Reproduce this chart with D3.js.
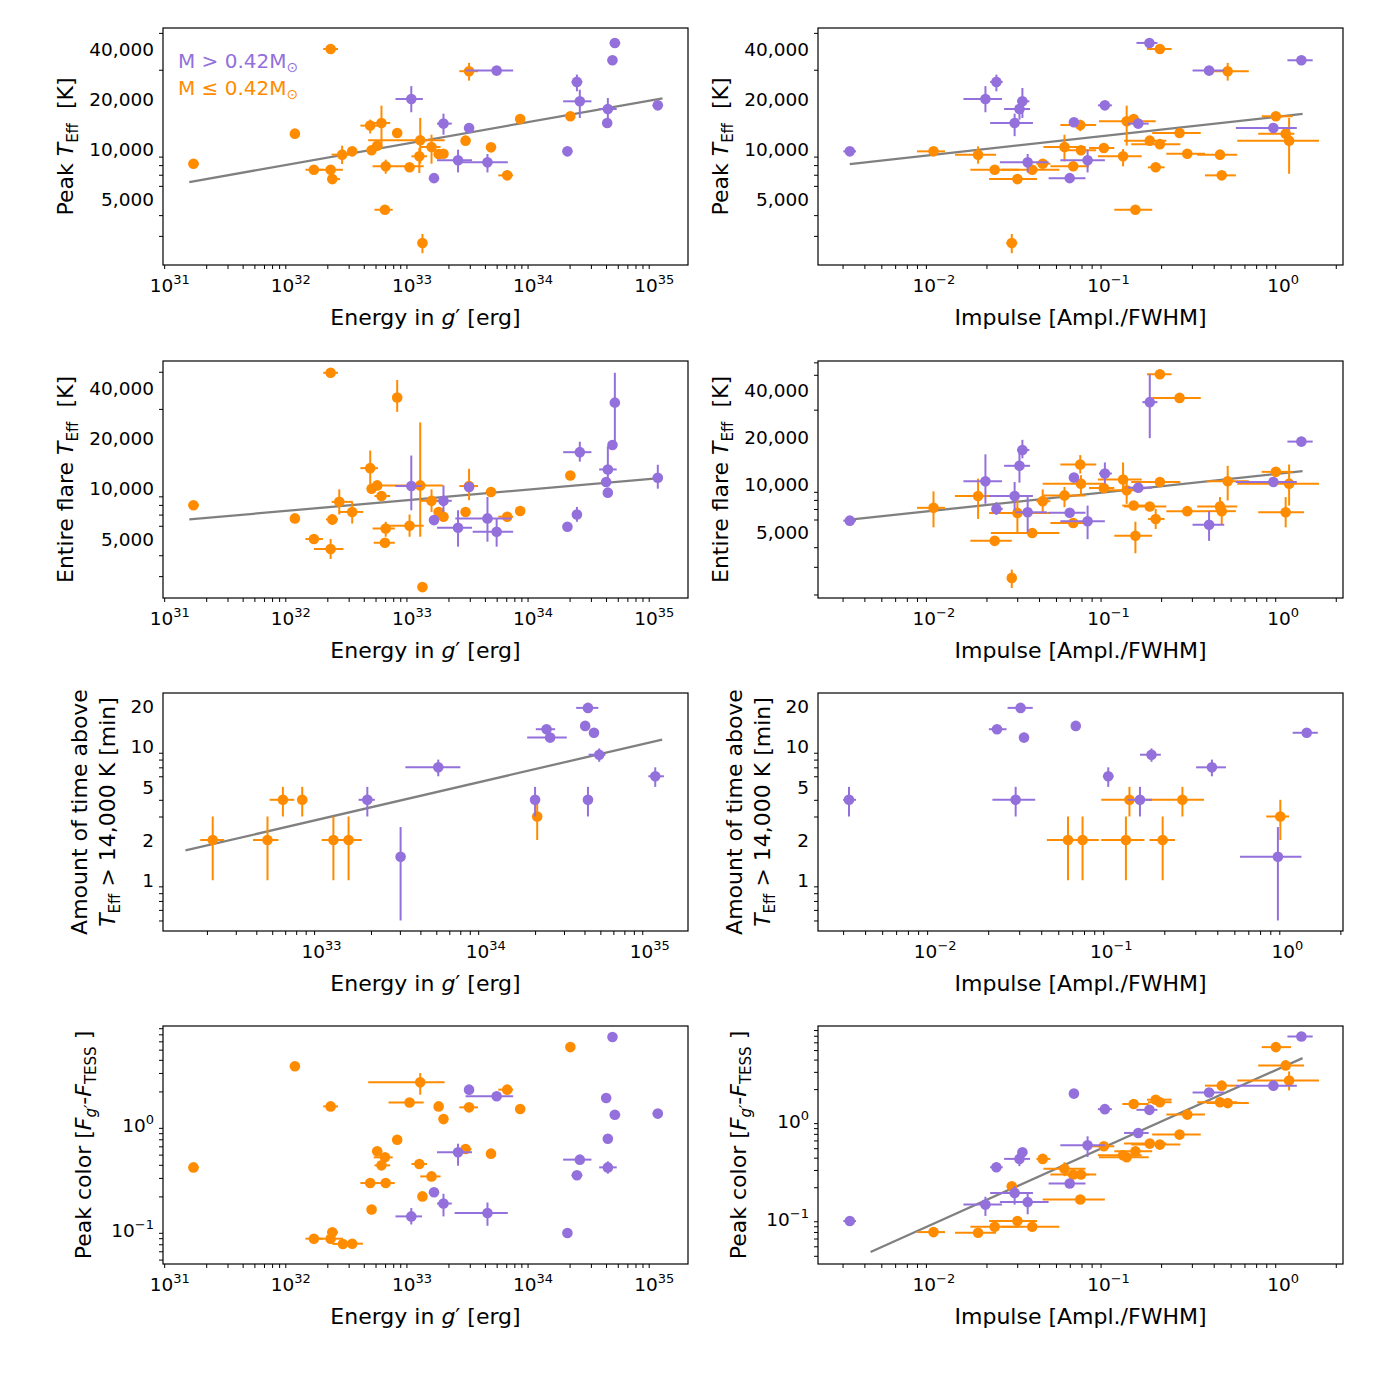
<!DOCTYPE html>
<html><head><meta charset="utf-8">
<script src="https://cdn.jsdelivr.net/npm/d3@7"></script>
<style>
body{margin:0;background:#fff}
text{font-family:"DejaVu Sans",sans-serif;white-space:pre}
</style>
</head><body>
<svg id="c" width="1375" height="1375"></svg>
<script>
// ---------------- DATA ----------------
// each point: [x, xLow, xHigh, y, yLow, yHigh]  (null = no error bar)
// group "hi" : M > 0.42 Msun (purple), group "lo" : M <= 0.42 Msun (orange)
const legendLabels = ["M > 0.42M", "M \u2264 0.42M"];
const energyTicks = [1e31,1e32,1e33,1e34,1e35];
const energyTicksDur = [1e33,1e34,1e35];
const impulseTicks = [0.01,0.1,1];
const tempTicks = [5000,10000,20000,40000];
const durTicks = [1,2,5,10,20];
const colorTicks = [0.1,1];

const energyPeakT_lo = [
[1.57e31,1.43e31,1.74e31,8160,7850,8450],
[1.08e32,0.99e32,1.17e32,12370,11900,12900],
[2.13e32,1.85e32,2.45e32,40000,null,null],
[1.55e32,1.32e32,1.84e32,7500,null,null],
[2.13e32,1.68e32,2.69e32,7500,7050,7950],
[2.20e32,2.00e32,2.55e32,6590,6350,6850],
[2.65e32,2.17e32,3.24e32,9250,8130,10470],
[3.21e32,2.97e32,3.51e32,9680,9300,10050],
[4.52e32,3.75e32,5.24e32,13830,12400,15030],
[5.60e32,4.73e32,6.61e32,14350,10140,18240],
[4.64e32,null,null,9820,null,null],
[5.16e32,null,null,10470,null,null],
[1.17e33,4.35e32,1.86e33,11280,8160,15380],
[7.55e32,null,null,12480,null,null],
[6.07e32,4.73e32,1.25e33,7870,7100,8630],
[9.55e32,null,null,7760,null,null],
[1.15e33,0.99e33,1.33e33,9040,7170,10140],
[1.45e33,1.17e33,1.72e33,10280,8160,12190],
[1.66e33,null,null,9330,null,null],
[1.82e33,null,null,9370,null,null],
[2.77e33,null,null,11230,null,null],
[2.96e33,2.46e33,3.51e33,29400,25800,33000],
[4.49e33,null,null,10230,null,null],
[6.11e33,5.16e33,6.84e33,6940,null,null],
[7.82e33,null,null,15160,null,null],
[2.03e34,null,null,15740,null,null],
[5.98e32,4.90e32,6.93e32,4310,4100,4550],
[1.22e33,null,null,2720,2360,3080]
];
const energyPeakT_hi = [
[9.87e32,7.31e32,1.23e33,20000,16640,23900],
[1.82e33,1.61e33,2.13e33,14220,12190,16330],
[2.96e33,null,null,13390,null,null],
[1.52e33,null,null,6680,null,null],
[2.40e33,1.61e33,3.13e33,8550,7230,9910],
[4.20e33,2.25e33,6.18e33,8310,7230,9330],
[5.00e33,2.77e33,6.84e33,29650,null,null],
[1.92e34,null,null,9680,null,null],
[2.30e34,2.08e34,2.55e34,25350,22250,28050],
[2.43e34,1.77e34,3.03e34,19370,15380,22760],
[4.14e34,3.51e34,4.90e34,17410,15030,20270],
[4.09e34,null,null,14350,null,null],
[4.52e34,null,null,34200,null,null],
[4.73e34,4.29e34,5.24e34,43500,null,null],
[1.07e35,0.97e35,1.18e35,18320,null,null]
];
const fitEnergyPeakT = [[1.45e31,6330],[1.17e35,20180]];

const impulsePeakT_lo = [
[0.00995,0.00801,0.01158,9680,9250,10140],
[0.01791,0.01321,0.02269,9250,8160,10370],
[0.02229,0.01618,0.03064,7500,7200,7800],
[0.03007,0.02070,0.03898,6590,6350,6850],
[0.02792,0.02600,0.03000,2720,2360,3080],
[0.03656,0.02432,0.05225,7500,7100,7870],
[0.04198,0.03863,0.04645,8160,7900,8450],
[0.05593,0.04236,0.07378,10280,8430,12190],
[0.06278,0.04645,0.07733,7870,7500,8250],
[0.06951,0.05593,0.08494,9820,9500,10150],
[0.06887,0.05297,0.08494,13950,12800,15000],
[0.09397,0.07733,0.1079,10140,null,null],
[0.1211,0.08695,0.1548,9040,7870,10000],
[0.1270,0.08810,0.1862,14680,10480,18240],
[0.1393,0.1290,0.1500,15160,null,null],
[0.1722,0.1227,0.2142,11230,null,null],
[0.1968,0.1349,0.2577,10700,null,null],
[0.1862,0.1683,0.2094,7760,7450,8050],
[0.1425,0.1079,0.1778,4310,null,null],
[0.1968,0.1660,0.2296,40000,null,null],
[0.2551,0.1778,0.3373,12480,null,null],
[0.2823,0.2142,0.3566,9370,null,null],
[0.4347,0.3218,0.5454,9250,null,null],
[0.4447,0.3566,0.5358,6940,null,null],
[0.4810,0.3648,0.6355,29400,25800,33000],
[0.9077,0.7535,1.132,15740,null,null],
[1.033,0.7194,1.159,12370,null,null],
[1.081,0.5454,1.603,11230,7100,15380]
];
const impulsePeakT_hi = [
[0.00330,0.00303,0.00358,9680,null,null],
[0.01973,0.01476,0.02455,20000,16640,23900],
[0.02280,0.02099,0.02477,25350,22250,28050],
[0.03212,0.02991,0.03522,19370,15380,23300],
[0.03090,0.02523,0.03553,17410,15030,20270],
[0.02899,0.02099,0.03690,14350,11950,16330],
[0.03443,0.02387,0.04538,8310,7230,9330],
[0.05993,0.04538,0.07378,6680,null,null],
[0.06336,null,null,14500,null,null],
[0.07586,0.05297,0.09528,8550,7230,9910],
[0.09528,0.08695,0.1045,18320,null,null],
[0.1479,0.1288,0.1698,14220,null,null],
[0.1714,0.1445,0.1905,43500,null,null],
[0.3764,0.3027,0.4597,29650,null,null],
[0.8790,0.5358,1.197,13390,null,null],
[1.271,1.057,1.475,34200,null,null]
];
const fitImpulsePeakT = [[0.00330,8120],[1.291,16260]];

const energyEntireT_lo = [
[1.57e31,1.43e31,1.74e31,7960,7700,8250],
[1.08e32,1.02e32,1.15e32,6640,6340,7010],
[2.13e32,1.85e32,2.45e32,49300,null,null],
[1.55e32,1.32e32,1.84e32,5000,4820,5160],
[2.13e32,1.55e32,2.72e32,4360,3800,5000],
[2.20e32,1.95e32,2.45e32,6550,6060,7010],
[2.51e32,2.17e32,3.24e32,8340,7010,9910],
[3.21e32,2.48e32,3.95e32,7260,6190,8340],
[4.52e32,3.75e32,5.24e32,13270,10370,16920],
[4.64e32,null,null,10000,null,null],
[5.16e32,null,null,10460,null,null],
[1.17e33,5.24e32,1.80e33,10460,5160,24900],
[5.60e32,4.90e32,6.61e32,9040,8530,9560],
[7.55e32,null,null,35100,28800,44650],
[6.07e32,4.73e32,7.21e32,5780,5160,6340],
[5.98e32,4.83e32,7.21e32,4750,null,null],
[9.55e32,6.40e32,1.25e33,6000,5160,7010],
[1.45e33,1.17e33,1.72e33,8460,7260,9910],
[1.66e33,null,null,7260,null,null],
[1.82e33,null,null,6800,null,null],
[2.77e33,null,null,7260,6800,7780],
[2.96e33,2.46e33,3.51e33,10370,8530,13140],
[4.49e33,null,null,9560,9040,10000],
[6.11e33,5.16e33,6.84e33,6800,6340,7260],
[7.82e33,null,null,7360,6900,7700],
[2.03e34,null,null,11990,null,null],
[1.22e33,null,null,2580,null,null]
];
const energyEntireT_hi = [
[9.87e32,7.31e32,1.21e33,10370,7430,15780],
[1.82e33,1.61e33,2.13e33,8460,7260,10460],
[1.52e33,null,null,6490,null,null],
[2.40e33,1.61e33,3.13e33,5840,4500,7430],
[2.96e33,null,null,10230,null,null],
[4.20e33,2.28e33,6.61e33,6640,4820,8920],
[5.00e33,3.17e33,6.84e33,5530,4500,6640],
[1.92e34,null,null,5920,null,null],
[2.30e34,null,null,7010,6340,7780],
[2.43e34,1.77e34,3.03e34,16530,14520,19100],
[4.14e34,3.51e34,4.90e34,13030,10460,17920],
[4.01e34,null,null,10960,null,null],
[4.14e34,null,null,9470,8920,10000],
[4.52e34,null,null,18240,null,null],
[4.73e34,null,null,32700,18240,49300],
[1.07e35,0.97e35,1.18e35,11620,10000,13900]
];
const fitEnergyEntireT = [[1.45e31,6550],[1.17e35,11620]];

const impulseEntireT_lo = [
[0.00995,0.00801,0.01158,7120,5350,9060],
[0.01791,0.01321,0.02269,8460,6050,10930],
[0.02229,0.01618,0.02792,4390,null,null],
[0.03007,0.02070,0.04645,6610,4970,8330],
[0.02792,null,null,2550,2200,2880],
[0.03656,0.02119,0.05225,4920,null,null],
[0.04198,0.03863,0.04645,7850,6670,9330],
[0.05593,0.04236,0.07378,8540,7190,9660],
[0.06278,0.04645,0.07733,5700,null,null],
[0.06951,0.04198,0.0931,10150,8540,11480],
[0.06887,0.05297,0.08494,13440,11770,15420],
[0.09397,0.07733,0.1079,9520,null,null],
[0.1211,0.08695,0.1548,10770,8970,13840],
[0.1270,0.08810,0.1548,9200,7550,11090],
[0.1393,0.1199,0.1737,7360,null,null],
[0.1722,0.1227,0.2142,7260,null,null],
[0.1968,0.1349,0.2577,10400,null,null],
[0.1862,0.1683,0.2094,6050,5220,7010],
[0.1425,0.1079,0.1778,4730,3660,5810],
[0.1968,0.1660,0.2296,50400,null,null],
[0.2551,0.1778,0.3373,35650,null,null],
[0.2823,0.2142,0.3566,6780,null,null],
[0.4347,0.3218,0.5454,7260,6350,8330],
[0.4447,0.3566,0.5358,6780,5560,7850],
[0.4810,0.3648,0.6355,10500,7930,13180],
[0.9077,0.7535,1.132,12060,null,null],
[1.033,0.7194,1.315,6670,5350,8330],
[1.081,0.5454,1.603,10150,7360,13440]
];
const impulseEntireT_hi = [
[0.00330,0.00303,0.00358,5900,null,null],
[0.01973,0.01476,0.02455,10500,7550,15590],
[0.02280,0.02187,0.02477,7010,6410,7740],
[0.03212,0.02991,0.03522,16630,14690,19280],
[0.03090,0.02523,0.03553,13180,10300,16060],
[0.02899,0.02070,0.03690,8460,6840,10400],
[0.03443,0.02924,0.04436,6670,4970,8330],
[0.05993,0.04538,0.07378,6620,null,null],
[0.06336,null,null,11090,null,null],
[0.07586,0.05297,0.09528,5850,4500,7360],
[0.09528,0.08810,0.1045,11770,10150,13840],
[0.1479,0.1288,0.1778,9570,null,null],
[0.1722,0.1562,0.1905,33500,19760,50400],
[0.3764,0.3027,0.4597,5560,4390,6780],
[0.8790,0.5358,1.197,10400,null,null],
[1.271,1.057,1.475,18790,null,null]
];
const fitImpulseEntireT = [[0.00330,5990],[1.291,12180]];

const energyDuration_lo = [
[2.17e32,1.82e32,2.55e32,2,1,3],
[4.68e32,3.82e32,5.46e32,2,1,3],
[5.81e32,4.82e32,6.81e32,4,3,5],
[7.62e32,null,null,4,3,5],
[1.18e33,1.00e33,1.38e33,2,1,3],
[1.46e33,1.22e33,1.76e33,2,1,3],
[2.06e34,null,null,3,2,4]
];
const energyDuration_hi = [
[1.90e33,1.68e33,2.11e33,4,3,5],
[3.03e33,null,null,1.5,0.5,2.5],
[5.14e33,3.24e33,7.01e33,7,6,8],
[2.00e34,null,null,4,3,5],
[2.35e34,2.02e34,2.65e34,13.5,12.5,14.5],
[2.47e34,1.79e34,3.12e34,11.7,10.7,12.7],
[4.20e34,3.56e34,4.86e34,19.5,18.5,20.5],
[4.04e34,null,null,14.3,13.3,15.3],
[4.57e34,null,null,12.7,11.7,13.7],
[4.92e34,4.24e34,5.37e34,8.7,7.7,9.7],
[4.20e34,null,null,4,3,5],
[1.08e35,9.80e34,1.22e35,6,5,7]
];
const fitEnergyDuration = [[1.48e32,1.67],[1.19e35,11.3]];

const impulseDuration_lo = [
[0.05680,0.04307,0.07131,2,1,3],
[0.06870,0.05808,0.08494,2,1,3],
[0.1211,0.08770,0.1543,2,1,3],
[0.1958,0.1644,0.2302,2,1,3],
[0.1268,0.08770,0.1705,4,3,5],
[0.2535,0.1705,0.3364,4,3,5],
[0.9120,0.7589,1.023,3,2,4]
];
const impulseDuration_hi = [
[0.00324,0.00300,0.00355,4,3,5],
[0.02244,0.02018,0.02541,13.5,12.5,14.5],
[0.03055,0.02576,0.03582,19.5,18.5,20.5],
[0.03194,null,null,11.7,10.7,12.7],
[0.02864,0.02113,0.03698,4,3,5],
[0.06287,null,null,14.3,13.3,15.3],
[0.09612,0.08968,0.1030,6,5,7],
[0.1455,0.1239,0.1705,4,3,5],
[0.1692,0.1455,0.1912,8.7,7.7,9.7],
[0.3727,0.3033,0.4478,7,6,8],
[0.8836,0.5381,1.202,1.5,0.5,2.5],
[1.288,1.072,1.489,12.7,11.7,13.7]
];

const energyColor_lo = [
[1.57e31,1.43e31,1.74e31,0.378,null,null],
[1.08e32,0.99e32,1.17e32,3.47,null,null],
[2.13e32,1.85e32,2.45e32,1.44,null,null],
[1.55e32,1.32e32,1.84e32,0.0791,null,null],
[2.13e32,1.68e32,2.69e32,0.0791,null,null],
[2.20e32,2.00e32,2.45e32,0.091,0.087,0.096],
[2.69e32,2.20e32,3.17e32,0.0705,0.065,0.076],
[3.21e32,2.51e32,3.93e32,0.0709,null,null],
[4.52e32,3.75e32,5.24e32,0.268,null,null],
[6.07e32,4.90e32,7.21e32,0.268,0.250,0.290],
[4.64e32,null,null,0.150,null,null],
[5.16e32,null,null,0.537,null,null],
[5.98e32,4.83e32,6.93e32,0.471,null,null],
[5.60e32,4.90e32,6.61e32,0.395,null,null],
[7.55e32,null,null,0.694,null,null],
[9.55e32,6.40e32,1.25e33,1.57,null,null],
[1.17e33,4.35e32,1.86e33,2.44,1.86,2.99],
[1.15e33,0.99e33,1.33e33,0.407,null,null],
[1.22e33,null,null,0.200,null,null],
[1.45e33,1.17e33,1.72e33,0.310,0.282,0.340],
[1.66e33,null,null,1.44,null,null],
[1.82e33,null,null,1.09,null,null],
[2.77e33,2.48e33,3.10e33,0.565,null,null],
[2.96e33,2.46e33,3.51e33,1.41,null,null],
[4.49e33,null,null,0.511,null,null],
[6.11e33,5.16e33,6.84e33,2.08,null,null],
[7.82e33,null,null,1.36,null,null],
[2.03e34,null,null,5.29,null,null]
];
const energyColor_hi = [
[9.87e32,7.31e32,1.21e33,0.129,0.108,0.155],
[1.52e33,null,null,0.219,null,null],
[1.82e33,1.61e33,2.13e33,0.171,0.129,0.212],
[2.40e33,1.61e33,3.13e33,0.526,0.392,0.635],
[2.96e33,null,null,2.08,null,null],
[4.20e33,2.25e33,6.18e33,0.139,0.105,0.175],
[5.00e33,2.77e33,6.84e33,1.80,null,null],
[1.92e34,null,null,0.0896,null,null],
[2.30e34,2.08e34,2.55e34,0.318,null,null],
[2.43e34,1.77e34,3.03e34,0.448,null,null],
[4.14e34,3.51e34,4.90e34,0.378,0.329,0.431],
[4.14e34,null,null,0.709,null,null],
[4.01e34,null,null,1.73,null,null],
[4.52e34,null,null,6.59,null,null],
[4.73e34,4.29e34,5.24e34,1.20,null,null],
[1.07e35,0.97e35,1.18e35,1.23,null,null]
];

const impulseColor_lo = [
[0.00995,0.00801,0.01158,0.0698,null,null],
[0.01791,0.01321,0.02269,0.0687,null,null],
[0.02229,0.01618,0.03064,0.0791,null,null],
[0.03007,0.02070,0.03898,0.0904,null,null],
[0.02792,null,null,0.205,null,null],
[0.03656,0.02432,0.05225,0.0791,null,null],
[0.04198,0.03863,0.04645,0.389,null,null],
[0.05593,0.04236,0.07378,0.308,0.259,0.360],
[0.06278,0.04645,0.07733,0.270,null,null],
[0.06951,0.05593,0.08494,0.270,null,null],
[0.06887,0.04198,0.09528,0.150,null,null],
[0.09397,0.07733,0.1079,0.523,null,null],
[0.1211,0.08695,0.1548,0.424,null,null],
[0.1270,0.08810,0.1698,0.404,null,null],
[0.1425,0.1079,0.1778,0.465,null,null],
[0.1393,0.1199,0.1698,1.41,null,null],
[0.1722,0.1227,0.2142,0.557,null,null],
[0.1968,0.1349,0.2577,0.544,null,null],
[0.1862,0.1660,0.2296,1.56,null,null],
[0.1968,0.1683,0.2296,1.47,null,null],
[0.2551,0.1778,0.3373,0.688,null,null],
[0.2823,0.2142,0.3566,1.10,null,null],
[0.4347,0.3218,0.5454,1.47,null,null],
[0.4810,0.3648,0.6355,1.44,null,null],
[0.4447,0.3566,0.5358,2.17,null,null],
[0.9077,0.7535,1.107,5.36,null,null],
[1.033,0.7194,1.315,3.49,null,null],
[1.081,0.5454,1.603,2.45,1.94,3.03]
];
const impulseColor_hi = [
[0.00330,0.00303,0.00358,0.0904,null,null],
[0.01973,0.01476,0.02455,0.133,0.102,0.160],
[0.02280,0.02099,0.02477,0.320,null,null],
[0.02899,0.02099,0.03690,0.175,0.133,0.205],
[0.03090,0.02523,0.03553,0.389,0.328,0.455],
[0.03212,null,null,0.455,null,null],
[0.03443,0.02387,0.04538,0.141,0.106,0.173],
[0.05993,0.04538,0.07378,0.218,null,null],
[0.06336,null,null,1.80,null,null],
[0.07586,0.05297,0.09528,0.536,0.407,0.661],
[0.09528,0.08695,0.1045,1.25,null,null],
[0.1479,0.1227,0.1698,0.715,null,null],
[0.1714,0.1445,0.1905,1.23,null,null],
[0.3764,0.3027,0.4597,1.85,null,null],
[0.8790,0.5358,1.197,2.17,null,null],
[1.271,1.057,1.475,6.88,null,null]
];
const fitImpulseColor = [[0.00434,0.0437],[1.291,4.14]];

// ---------------- LABELS ----------------
const xLabelEnergy = [{t:"Energy in "},{t:"g",i:1},{t:"\u2032 [erg]"}];
const xLabelImpulse = [{t:"Impulse [Ampl./FWHM]"}];
const yLabelPeakT = [[{t:"Peak "},{t:"T",i:1},{t:"Eff",sub:1},{t:"  [K]"}]];
const yLabelEntireT = [[{t:"Entire flare "},{t:"T",i:1},{t:"Eff",sub:1},{t:"  [K]"}]];
const yLabelDur = [[{t:"Amount of time above"}],[{t:"T",i:1},{t:"Eff",sub:1},{t:" > 14,000 K [min]"}]];
const yLabelColor = [[{t:"Peak color ["},{t:"F",i:1},{t:"g\u2032",i:1,sub:1},{t:"-"},{t:"F",i:1},{t:"TESS",sub:1},{t:" ]"}]];

// ---------------- DRAWING ----------------
const HI = "#9370DB", LO = "#FF8C00", FIT = "#808080";
const svg = d3.select("#c");
const colX = [163, 818], colW = 525;
const rowTop = [28, 361, 693, 1026], rowBot = [265, 598, 931, 1264];

function rich(sel, parts, subSize){
  let shift = 0;
  parts.forEach(p=>{
    const ts = sel.append("tspan").text(p.t);
    const target = p.sub ? 5 : (p.sup ? -8 : 0);
    if (target !== shift) ts.attr("dy", target - shift);
    shift = target;
    if (p.i) ts.attr("font-style","italic");
    if (p.sub) ts.attr("font-size", subSize || 15);
  });
}
function powLabel(v){
  const e = Math.round(Math.log10(v));
  return [{t:"10"},{t:(e<0?"\u2212":"")+Math.abs(e),sup:1}];
}
function richSup(sel, parts){
  let shift=0;
  parts.forEach(p=>{
    const ts = sel.append("tspan").text(p.t);
    const target = p.sup ? -8 : 0;
    if (target!==shift) ts.attr("dy", target-shift);
    shift=target;
    if (p.sup) ts.attr("font-size", 13);
  });
}
function minors(domain, majors){
  const out=[]; const [a,b]=domain;
  for (let k=Math.floor(Math.log10(a)); k<=Math.ceil(Math.log10(b)); k++)
    for (let m=1;m<=9;m++){
      const v=m*Math.pow(10,k);
      if (v>=a && v<=b && !majors.some(t=>Math.abs(t-v)/v<1e-6)) out.push(v);
    }
  return out;
}

const panels = [
 {col:0,row:0,xd:[8.8e30,1.9e35],yd:[2004,53500],xt:energyTicks,yt:tempTicks,yf:"comma",lo:energyPeakT_lo,hi:energyPeakT_hi,fit:fitEnergyPeakT,xl:xLabelEnergy,yl:yLabelPeakT,legend:true},
 {col:1,row:0,xd:[0.00217,2.20],yd:[2004,53500],xt:impulseTicks,yt:tempTicks,yf:"comma",lo:impulsePeakT_lo,hi:impulsePeakT_hi,fit:fitImpulsePeakT,xl:xLabelImpulse,yl:yLabelPeakT},
 {col:0,row:1,xd:[8.8e30,1.9e35],yd:[2220,58000],xt:energyTicks,yt:tempTicks,yf:"comma",lo:energyEntireT_lo,hi:energyEntireT_hi,fit:fitEnergyEntireT,xl:xLabelEnergy,yl:yLabelEntireT},
 {col:1,row:1,xd:[0.00217,2.20],yd:[1900,61200],xt:impulseTicks,yt:tempTicks,yf:"comma",lo:impulseEntireT_lo,hi:impulseEntireT_hi,fit:fitImpulseEntireT,xl:xLabelImpulse,yl:yLabelEntireT},
 {col:0,row:2,xd:[1.08e32,1.71e35],yd:[0.417,25.2],xt:energyTicksDur,yt:durTicks,yf:"plain",lo:energyDuration_lo,hi:energyDuration_hi,fit:fitEnergyDuration,xl:xLabelEnergy,yl:yLabelDur},
 {col:1,row:2,xd:[0.00216,2.07],yd:[0.417,25.2],xt:impulseTicks,yt:durTicks,yf:"plain",lo:impulseDuration_lo,hi:impulseDuration_hi,fit:null,xl:xLabelImpulse,yl:yLabelDur},
 {col:0,row:3,xd:[8.8e30,1.9e35],yd:[0.0454,8.4],xt:energyTicks,yt:colorTicks,yf:"pow",lo:energyColor_lo,hi:energyColor_hi,fit:null,xl:xLabelEnergy,yl:yLabelColor},
 {col:1,row:3,xd:[0.00217,2.20],yd:[0.033,8.8],xt:impulseTicks,yt:colorTicks,yf:"pow",lo:impulseColor_lo,hi:impulseColor_hi,fit:fitImpulseColor,xl:xLabelImpulse,yl:yLabelColor}
];

panels.forEach((p,idx)=>{
  const x0=colX[p.col], x1=x0+colW, y0=rowTop[p.row], y1=rowBot[p.row];
  const xs=d3.scaleLog().domain(p.xd).range([x0,x1]);
  const ys=d3.scaleLog().domain(p.yd).range([y1,y0]);
  const g=svg.append("g");
  const cid="clip"+idx;
  g.append("clipPath").attr("id",cid).append("rect").attr("x",x0).attr("y",y0).attr("width",x1-x0).attr("height",y1-y0);
  const pg=g.append("g").attr("clip-path",`url(#${cid})`);

  if (p.fit){
    pg.append("line").attr("x1",xs(p.fit[0][0])).attr("y1",ys(p.fit[0][1]))
      .attr("x2",xs(p.fit[1][0])).attr("y2",ys(p.fit[1][1]))
      .attr("stroke",FIT).attr("stroke-width",2.3);
  }
  [[p.lo,LO],[p.hi,HI]].forEach(([data,col])=>{
    const sg=pg.append("g");
    sg.selectAll("line.xe").data(data.filter(d=>d[1]!=null)).join("line").attr("class","xe")
      .attr("x1",d=>xs(d[1])).attr("x2",d=>xs(d[2])).attr("y1",d=>ys(d[3])).attr("y2",d=>ys(d[3]))
      .attr("stroke",col).attr("stroke-width",2);
    sg.selectAll("line.ye").data(data.filter(d=>d[4]!=null)).join("line").attr("class","ye")
      .attr("x1",d=>xs(d[0])).attr("x2",d=>xs(d[0])).attr("y1",d=>ys(d[4])).attr("y2",d=>ys(d[5]))
      .attr("stroke",col).attr("stroke-width",2);
    sg.selectAll("circle").data(data).join("circle")
      .attr("cx",d=>xs(d[0])).attr("cy",d=>ys(d[3])).attr("r",5.3).attr("fill",col);
  });

  // axes ticks
  const xa=g.append("g").attr("transform",`translate(0,${y1})`);
  xa.call(d3.axisBottom(xs).tickValues(p.xt).tickSize(7).tickSizeOuter(0).tickFormat(()=>""));
  xa.call(d3.axisBottom(xs).tickValues(minors(p.xd,p.xt)).tickSize(4).tickSizeOuter(0).tickFormat(()=>""));
  const ya=g.append("g").attr("transform",`translate(${x0},0)`);
  ya.call(d3.axisLeft(ys).tickValues(p.yt).tickSize(7).tickSizeOuter(0).tickFormat(()=>""));
  ya.call(d3.axisLeft(ys).tickValues(minors(p.yd,p.yt)).tickSize(4).tickSizeOuter(0).tickFormat(()=>""));
  g.selectAll(".domain").remove();
  g.selectAll(".tick line").attr("stroke","#000").attr("stroke-width",1);

  // tick labels
  p.xt.forEach(v=>{
    const t=g.append("text").attr("x",xs(v)).attr("y",y1+27).attr("text-anchor","middle").attr("font-size",18.5).attr("fill","#000");
    richSup(t,powLabel(v));
  });
  p.yt.forEach(v=>{
    const t=g.append("text").attr("x",x0-9).attr("y",ys(v)).attr("dy","0.36em").attr("text-anchor","end").attr("font-size",18.5).attr("fill","#000");
    if (p.yf==="comma") t.text(d3.format(",")(v));
    else if (p.yf==="plain") t.text(String(v));
    else { t.attr("dy","0.5em"); richSup(t,powLabel(v)); }
  });

  // frame
  g.append("rect").attr("x",x0).attr("y",y0).attr("width",x1-x0).attr("height",y1-y0)
    .attr("fill","none").attr("stroke","#000").attr("stroke-width",1.2);

  // x label
  const xl=g.append("text").attr("x",(x0+x1)/2).attr("y",y1+60).attr("text-anchor","middle").attr("font-size",22).attr("fill","#000");
  rich(xl,p.xl);

  // y label
  const cy=(y0+y1)/2;
  const offs = p.yl.length===2 ? [76,48] : (p.row===3 ? [72] : [90]);
  p.yl.forEach((line,li)=>{
    const t=g.append("text").attr("transform",`translate(${x0-offs[li]},${cy}) rotate(-90)`)
      .attr("text-anchor","middle").attr("font-size",22).attr("fill","#000");
    rich(t,line);
  });

  if (p.legend){
    [[legendLabels[0],HI,68],[legendLabels[1],LO,95]].forEach(([lab,col,yy])=>{
      const t=g.append("text").attr("x",x0+15).attr("y",yy).attr("font-size",20).attr("fill",col);
      t.append("tspan").text(lab);
      t.append("tspan").text("\u2299").attr("font-size",14).attr("dy",4);
    });
  }
});
</script>
</body></html>
